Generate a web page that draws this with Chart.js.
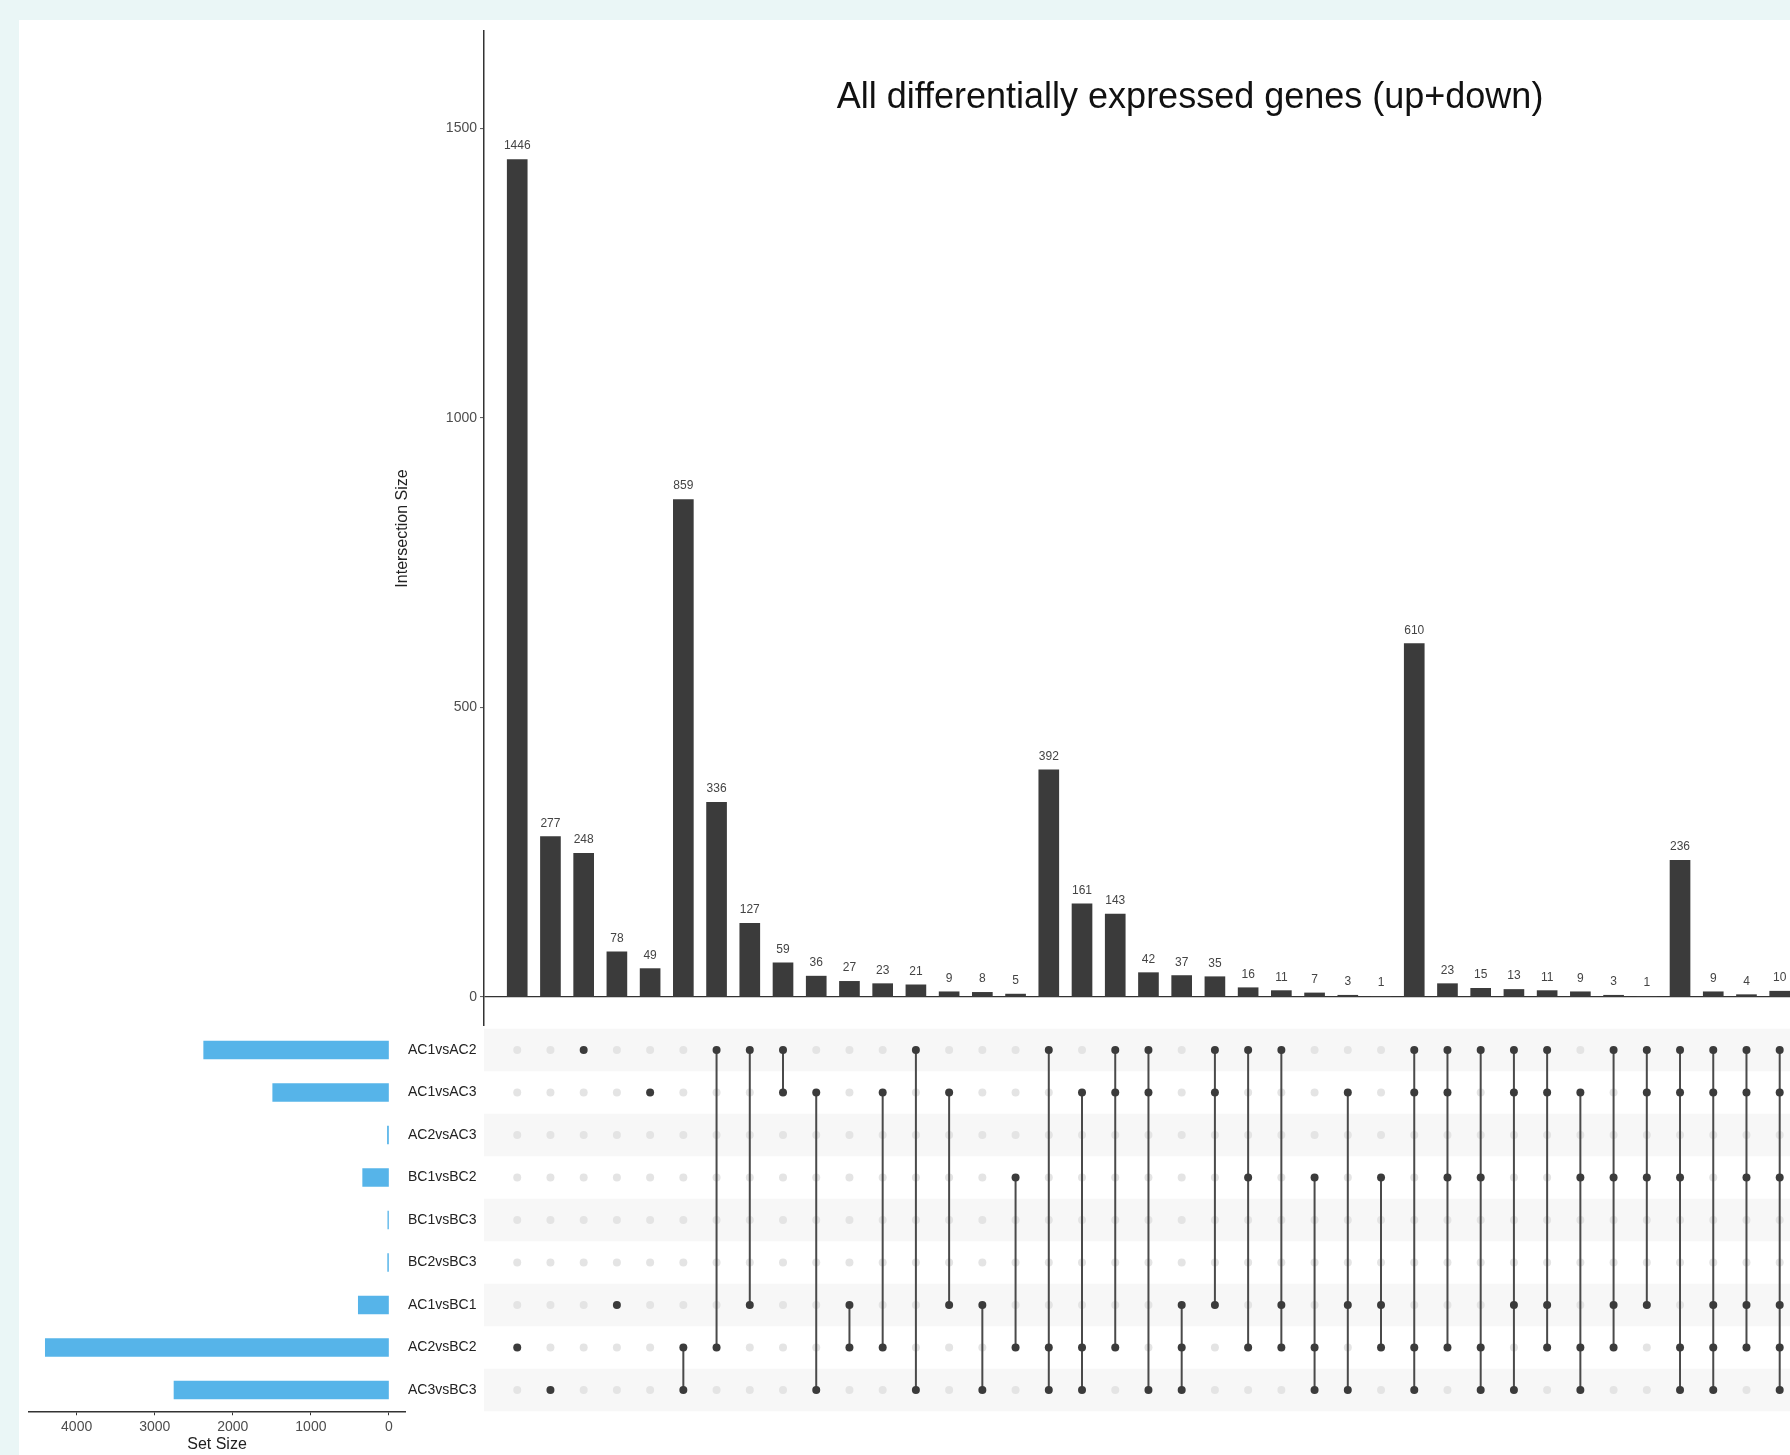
<!DOCTYPE html>
<html>
<head>
<meta charset="utf-8">
<script src="https://cdn.jsdelivr.net/npm/chart.js@4.4.1/dist/chart.umd.min.js"></script>
<style>
  html, body { margin: 0; padding: 0; background: #eaf6f6; }
  #wrap { position: relative; width: 1790px; height: 1455px; overflow: hidden; }
  #panel { position: absolute; left: 19px; top: 20px; right: 0; bottom: 0; background: #fff; }
  canvas { position: absolute; }
</style>
</head>
<body>
<div id="wrap">
  <div id="panel"></div>
  <canvas id="bars" width="1397" height="1026" style="left:393px;top:0"></canvas>
  <canvas id="matrix" width="1306" height="400" style="left:484px;top:1020px"></canvas>
  <canvas id="sizes" width="484" height="455" style="left:0;top:1000px"></canvas>
</div>
<script>
const setNames = ['AC1vsAC2', 'AC1vsAC3', 'AC2vsAC3', 'BC1vsBC2', 'BC1vsBC3', 'BC2vsBC3', 'AC1vsBC1', 'AC2vsBC2', 'AC3vsBC3'];
const setSizes = [2373, 1489, 20, 337, 15, 17, 393, 4401, 2753];

// intersection sizes, left to right
const interSizes = [1446, 277, 248, 78, 49, 859, 336, 127, 59, 36, 27, 23, 21, 9, 8, 5,
  392, 161, 143, 42, 37, 35, 16, 11, 7, 3, 1,
  610, 23, 15, 13, 11, 9, 3, 1,
  236, 9, 4, 10];

// which sets (index into setNames) make up each intersection
const interSets = [
  [7], [8], [0], [6], [1], [7, 8], [0, 7], [0, 6], [0, 1], [1, 8], [6, 7], [1, 7], [0, 8], [1, 6], [6, 8], [3, 7],
  [0, 7, 8], [1, 7, 8], [0, 1, 7], [0, 1, 8], [6, 7, 8], [0, 1, 6], [0, 3, 7], [0, 6, 7], [3, 7, 8], [1, 6, 8], [3, 6, 7],
  [0, 1, 7, 8], [0, 1, 3, 7], [0, 3, 7, 8], [0, 1, 6, 8], [0, 1, 6, 7], [1, 3, 7, 8], [0, 3, 6, 7], [0, 1, 3, 6],
  [0, 1, 3, 7, 8], [0, 1, 6, 7, 8], [0, 1, 3, 6, 7], [0, 1, 3, 6, 7, 8]
];

const yTicks = [0, 500, 1000, 1500];
const sizeTicks = [0, 1000, 2000, 3000, 4000];
const title = 'All differentially expressed genes (up+down)';

Chart.defaults.font.family = "'Liberation Sans', Arial, sans-serif";
Chart.defaults.animation = false;

const fixWidth = w => s => { s.width = w; s.paddingTop = 0; s.paddingBottom = 0; };
const fixHeight = h => s => { s.height = h; s.paddingLeft = 0; s.paddingRight = 0; };
const noPlugins = { legend: { display: false }, tooltip: { enabled: false } };
const plain = v => String(v);

// numbers above the bars
const barLabels = {
  id: 'barLabels',
  afterDatasetsDraw(chart) {
    const ctx = chart.ctx;
    ctx.save();
    ctx.font = "12px 'Liberation Sans', Arial, sans-serif";
    ctx.fillStyle = '#444';
    ctx.textAlign = 'center';
    chart.getDatasetMeta(0).data.forEach((bar, i) => {
      ctx.fillText(String(interSizes[i]), bar.x, bar.y - 10);
    });
    ctx.restore();
  }
};

const mainTitle = {
  id: 'mainTitle',
  afterDraw(chart) {
    const ctx = chart.ctx;
    ctx.save();
    ctx.font = "36px 'Liberation Sans', Arial, sans-serif";
    ctx.fillStyle = '#111';
    ctx.textAlign = 'center';
    ctx.fillText(title, chart.chartArea.left + 706, 108);
    ctx.restore();
  }
};

// grey bands behind every other set row
const stripes = {
  id: 'stripes',
  beforeDatasetsDraw(chart) {
    const { ctx, chartArea: a, scales: { y } } = chart;
    ctx.save();
    ctx.fillStyle = '#f7f7f7';
    setNames.forEach((n, r) => {
      if (r % 2) return;
      const t = y.getPixelForValue(r - 0.5), b = y.getPixelForValue(r + 0.5);
      ctx.fillRect(a.left, Math.min(t, b), a.right - a.left, Math.abs(b - t));
    });
    ctx.restore();
  }
};

new Chart(document.getElementById('bars'), {
  type: 'bar',
  data: {
    datasets: [{
      data: interSizes.map((v, i) => ({ x: i + 1, y: v })),
      backgroundColor: '#3b3b3b',
      barThickness: 20
    }]
  },
  options: {
    responsive: false,
    layout: { autoPadding: false, padding: { top: 31, left: 0, right: 0, bottom: 0 } },
    plugins: noPlugins,
    scales: {
      x: { type: 'linear', min: 0, max: 39.31, offset: false, display: false },
      y: {
        min: -50.07,
        max: 1667.8,
        afterBuildTicks: s => { s.ticks = yTicks.map(v => ({ value: v })); },
        afterFit: fixWidth(91),
        border: { display: true, color: '#333', width: 1.5 },
        grid: {
          color: c => (c.tick && c.tick.value === 0 ? '#333' : 'rgba(0,0,0,0)'),
          lineWidth: 1.2,
          drawTicks: true,
          tickLength: 4,
          tickColor: '#555',
          tickWidth: 1
        },
        ticks: { font: { size: 14 }, color: '#4d4d4d', padding: 3, callback: plain },
        title: { display: true, text: 'Intersection Size', font: { size: 16 }, color: '#222', padding: { top: 0, bottom: 0 } }
      }
    }
  },
  plugins: [barLabels, mainTitle]
});

// matrix points
const activePts = [];
const emptyPts = [];
interSets.forEach((rows, i) => {
  rows.forEach(r => activePts.push({ x: i + 1, y: r }));
  activePts.push({ x: i + 1, y: null });
  setNames.forEach((n, r) => {
    if (!rows.includes(r)) emptyPts.push({ x: i + 1, y: r });
  });
});

new Chart(document.getElementById('matrix'), {
  type: 'line',
  data: {
    datasets: [
      {
        data: activePts,
        borderColor: '#4a4a4a',
        borderWidth: 2,
        pointRadius: 4,
        pointBackgroundColor: '#3b3b3b',
        pointBorderWidth: 0,
        order: 0
      },
      {
        data: emptyPts,
        showLine: false,
        pointRadius: 4,
        pointBackgroundColor: '#e4e4e4',
        pointBorderWidth: 0,
        order: 1
      }
    ]
  },
  options: {
    responsive: false,
    layout: { autoPadding: false, padding: { top: 8.75, bottom: 8.75, left: 0, right: 0 } },
    plugins: noPlugins,
    scales: {
      x: { type: 'linear', min: 0, max: 39.31, display: false },
      y: { type: 'linear', min: -0.5, max: 8.5, reverse: true, display: false }
    }
  },
  plugins: [stripes]
});

new Chart(document.getElementById('sizes'), {
  type: 'bar',
  data: {
    labels: setNames,
    datasets: [{ data: setSizes, backgroundColor: '#56B4E9', barThickness: 18 }]
  },
  options: {
    indexAxis: 'y',
    responsive: false,
    layout: { autoPadding: false, padding: { left: 29, top: 28.75, right: 0, bottom: 0 } },
    plugins: noPlugins,
    scales: {
      x: {
        type: 'linear',
        reverse: true,
        min: -205,
        max: 4610,
        position: 'bottom',
        afterBuildTicks: s => { s.ticks = sizeTicks.map(v => ({ value: v })); },
        afterFit: fixHeight(43.75),
        border: { display: true, color: '#333', width: 1.5 },
        grid: { drawOnChartArea: false, drawTicks: true, tickLength: 4, color: '#333' },
        ticks: { font: { size: 14 }, color: '#4d4d4d', padding: 3, maxRotation: 0, callback: plain },
        title: { display: true, text: 'Set Size', font: { size: 16 }, color: '#222', padding: { top: 0, bottom: 1 } }
      },
      y: {
        position: 'right',
        afterFit: fixWidth(79),
        grid: { display: false, drawTicks: false },
        border: { display: false },
        ticks: { font: { size: 14 }, color: '#222', padding: 3 }
      }
    }
  }
});
</script>
</body>
</html>
